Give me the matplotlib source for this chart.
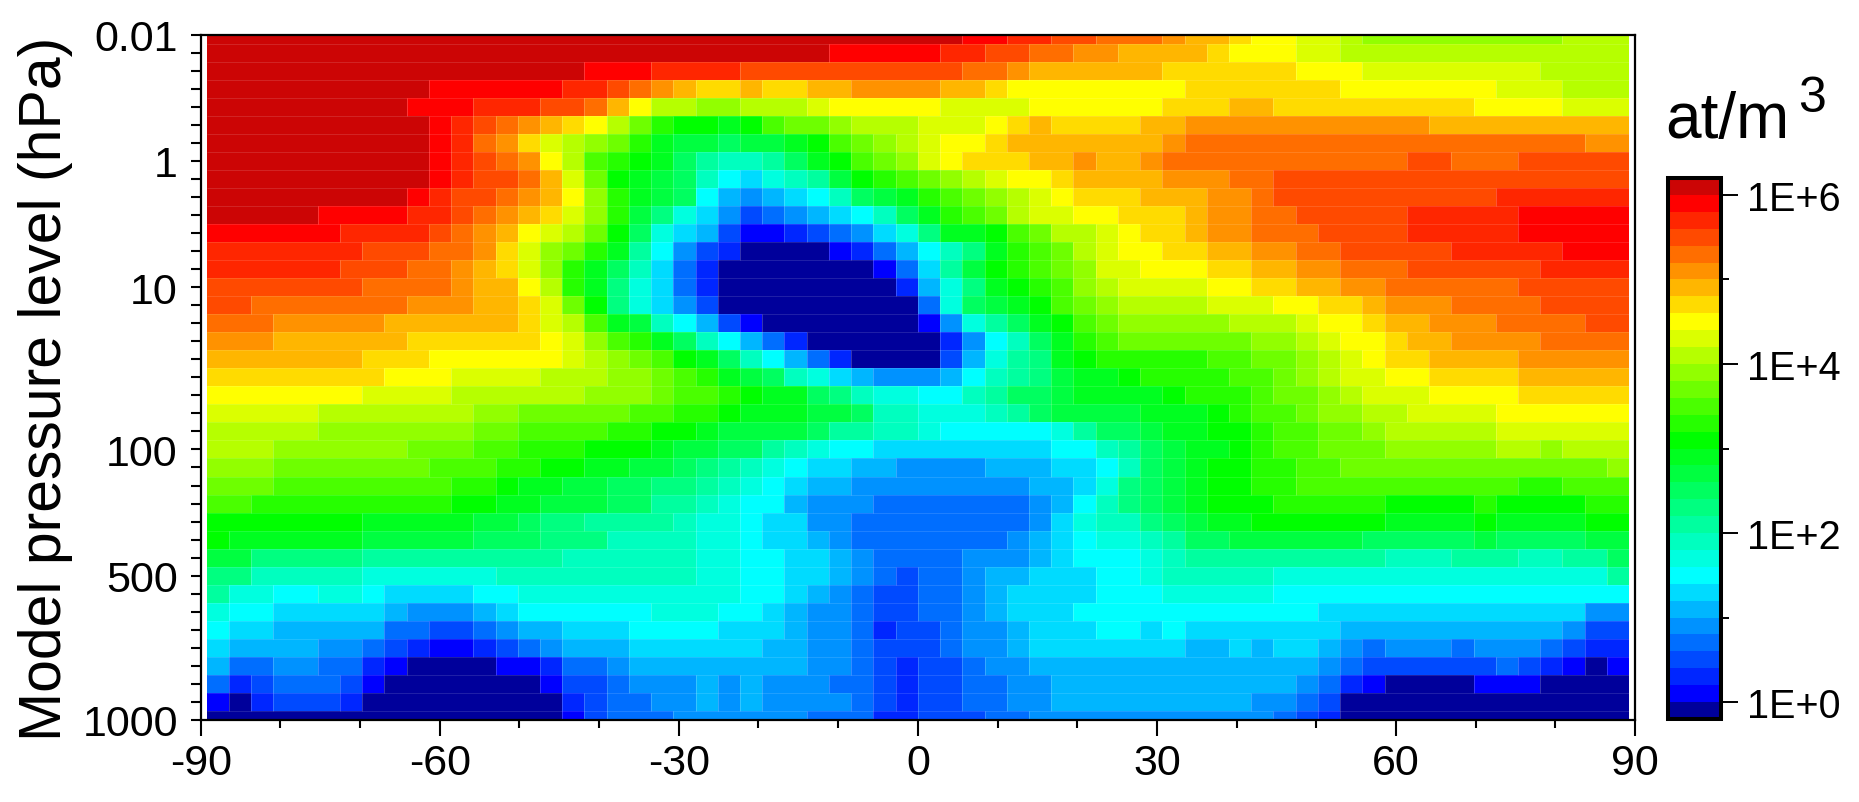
import numpy as np
import matplotlib
matplotlib.use("Agg")
import matplotlib.pyplot as plt
from matplotlib.colors import ListedColormap, BoundaryNorm
from matplotlib.collections import LineCollection

plt.rcParams['font.family'] = ['Liberation Sans', 'DejaVu Sans']
plt.rcParams['axes.unicode_minus'] = False

W, H = 1859, 803

# colour classes, lowest first. class 0 is below 1E+0, class 31 above 1E+6
class_colors = ['#00009B', '#0000FF', '#0026FF', '#004AFF', '#006EFF', '#0092FF', '#00B6FF', '#00DBFF',
                '#00FFFF', '#00FFDF', '#00FFBF', '#00FF9F', '#00FF80', '#00FF60', '#00FF40', '#00FF20',
                '#00FF00', '#26FF00', '#4AFF00', '#6EFF00', '#92FF00', '#B6FF00', '#DBFF00', '#FFFF00',
                '#FFDB00', '#FFB600', '#FF9200', '#FF6E00', '#FF4A00', '#FF2600', '#FF0000', '#CC0505']
log_bounds = np.arange(-0.2, 6.21, 0.2)

# T42 latitude cells and L39 levels (top to bottom)
n_lat = 64
n_lev = 39
lat_limit = 89.26

lat_ticks = [-90, -60, -30, 0, 30, 60, 90]
lat_minor = [-80, -70, -50, -40, -20, -10, 10, 20, 40, 50, 70, 80]
lev_ticks = [0, 7, 14, 23, 30, 38]
lev_labels = ['0.01', '1', '10', '100', '500', '1000']
cbar_ticks = [0, 2, 4, 6]
cbar_labels = ['1E+0', '1E+2', '1E+4', '1E+6']

# each level: (class, last column) runs from south to north
runs = [
    [(31,34),(30,36),(29,38),(28,40),(27,43),(26,44),(25,46),(24,47),(23,49),(22,51),(21,52),(20,61),(21,64)],
    [(31,28),(30,33),(29,35),(28,37),(27,39),(26,41),(25,45),(24,46),(23,49),(22,51),(21,64)],
    [(31,17),(30,20),(29,24),(28,34),(27,36),(26,37),(25,43),(24,49),(23,52),(22,60),(21,64)],
    [(31,10),(30,16),(29,18),(28,19),(27,20),(26,21),(25,22),(24,24),(25,25),(24,27),(25,29),(26,33),(25,35),(24,36),(23,44),(24,51),(23,58),(22,61),(21,64)],
    [(31,9),(30,12),(29,15),(28,17),(27,18),(25,19),(23,20),(21,22),(20,24),(21,27),(22,28),(23,33),(22,37),(23,43),(24,46),(25,48),(24,57),(23,61),(22,64)],
    [(31,10),(30,11),(29,12),(28,13),(27,14),(26,15),(25,16),(24,17),(23,18),(21,19),(19,20),(17,21),(16,23),(15,24),(16,25),(18,26),(19,28),(20,29),(21,32),(22,35),(23,36),(24,37),(25,38),(24,42),(25,44),(26,55),(25,64)],
    [(31,10),(30,11),(29,12),(27,13),(26,14),(24,15),(22,16),(21,17),(20,18),(19,19),(17,20),(15,21),(14,23),(13,24),(14,26),(15,27),(16,28),(18,29),(19,30),(20,31),(21,32),(22,33),(23,35),(24,36),(25,43),(26,44),(27,62),(26,64)],
    [(31,10),(30,11),(29,12),(28,13),(27,14),(26,15),(23,16),(21,17),(18,18),(17,19),(16,20),(15,21),(13,22),(11,23),(10,25),(11,26),(13,27),(15,28),(16,29),(18,30),(19,31),(20,32),(22,33),(23,34),(24,37),(25,39),(26,40),(25,42),(26,43),(27,54),(28,56),(27,59),(28,64)],
    [(31,10),(30,11),(29,12),(28,14),(27,15),(25,16),(22,17),(19,18),(16,19),(15,20),(14,21),(13,22),(10,23),(8,24),(7,25),(9,26),(10,27),(11,28),(14,29),(16,30),(17,31),(18,32),(19,33),(20,34),(21,35),(22,36),(23,38),(24,39),(25,43),(26,46),(27,48),(28,64)],
    [(31,9),(30,10),(29,11),(28,13),(27,14),(26,15),(25,16),(23,17),(20,18),(17,19),(15,20),(14,21),(13,22),(8,23),(6,24),(5,25),(6,26),(7,27),(8,28),(10,29),(13,30),(14,31),(15,32),(17,33),(18,34),(19,35),(20,36),(21,37),(22,38),(23,39),(24,42),(25,45),(26,47),(27,48),(28,58),(29,64)],
    [(31,5),(30,9),(29,11),(28,12),(27,13),(26,14),(25,15),(24,16),(22,17),(20,18),(17,19),(14,20),(12,21),(9,22),(7,23),(5,24),(3,25),(4,26),(5,27),(6,28),(7,29),(8,30),(10,31),(13,32),(15,33),(17,34),(18,35),(19,36),(21,37),(22,39),(23,41),(24,44),(25,45),(26,47),(27,49),(28,54),(29,59),(30,64)],
    [(30,6),(29,10),(28,11),(27,12),(26,13),(25,14),(23,15),(22,16),(21,17),(19,18),(16,19),(13,20),(9,21),(7,22),(6,23),(3,24),(1,26),(2,27),(3,28),(4,29),(5,30),(7,31),(9,32),(12,33),(15,35),(16,36),(18,37),(19,38),(21,40),(22,41),(23,42),(24,44),(25,45),(26,47),(27,50),(28,54),(29,59),(30,64)],
    [(29,7),(28,10),(27,12),(26,13),(24,14),(22,15),(20,16),(19,17),(17,18),(15,19),(11,20),(8,21),(5,22),(3,23),(2,24),(0,28),(1,29),(2,30),(4,31),(6,32),(8,33),(10,34),(12,35),(15,36),(17,37),(18,38),(19,39),(21,40),(22,41),(23,43),(24,45),(25,47),(26,49),(27,51),(28,56),(29,61),(30,64)],
    [(29,6),(28,9),(27,11),(26,12),(25,13),(24,14),(22,15),(20,16),(17,17),(15,18),(13,19),(10,20),(7,21),(4,22),(2,23),(0,30),(1,31),(4,32),(7,33),(11,34),(14,35),(16,36),(17,37),(18,38),(19,39),(20,40),(22,42),(23,45),(24,47),(25,49),(26,51),(27,54),(28,60),(29,64)],
    [(28,7),(27,11),(26,12),(25,14),(23,15),(21,16),(17,17),(15,18),(12,19),(9,20),(7,21),(4,22),(2,23),(0,31),(2,32),(6,33),(9,34),(12,35),(15,36),(16,37),(17,38),(18,39),(20,40),(21,41),(22,45),(23,47),(24,49),(25,51),(26,53),(27,59),(28,64)],
    [(28,2),(27,9),(26,12),(25,14),(24,15),(22,16),(19,17),(16,18),(12,19),(9,20),(7,21),(5,22),(3,23),(0,32),(4,33),(9,34),(13,35),(14,36),(15,37),(16,38),(18,39),(19,40),(20,41),(21,45),(22,48),(23,50),(24,52),(25,53),(26,56),(27,60),(28,64)],
    [(27,3),(26,8),(25,14),(24,15),(22,16),(21,17),(18,18),(15,19),(14,20),(10,21),(8,22),(6,23),(3,24),(1,25),(0,32),(1,33),(5,34),(9,35),(11,36),(13,37),(15,38),(16,39),(18,40),(19,41),(20,46),(21,49),(22,50),(23,52),(24,53),(25,55),(26,58),(27,62),(28,64)],
    [(26,3),(25,9),(24,15),(23,16),(22,17),(20,18),(18,19),(17,20),(15,21),(13,22),(10,23),(8,24),(6,25),(4,26),(2,27),(0,33),(2,34),(5,35),(8,36),(10,37),(13,38),(15,39),(17,40),(18,41),(19,47),(20,49),(21,50),(22,51),(23,53),(24,54),(25,56),(26,60),(27,64)],
    [(25,7),(24,10),(23,16),(22,17),(21,18),(20,19),(19,20),(18,21),(16,22),(15,23),(13,24),(10,25),(8,26),(6,27),(4,28),(2,29),(0,33),(3,34),(6,35),(9,36),(11,37),(12,38),(15,39),(16,40),(17,45),(18,47),(19,49),(20,50),(21,51),(22,52),(23,53),(24,55),(25,59),(26,64)],
    [(24,8),(23,11),(22,15),(21,18),(20,20),(19,21),(18,22),(17,23),(15,24),(14,25),(13,26),(10,27),(9,28),(7,29),(6,30),(5,33),(6,34),(8,35),(10,36),(11,37),(12,38),(14,39),(15,41),(16,42),(17,46),(18,48),(19,49),(20,50),(21,51),(22,53),(23,55),(24,59),(25,64)],
    [(23,7),(22,11),(21,17),(20,20),(19,21),(18,23),(17,24),(16,25),(15,27),(13,28),(12,29),(10,30),(9,32),(8,34),(10,35),(11,36),(13,38),(14,39),(15,43),(16,44),(17,47),(18,48),(19,50),(20,51),(21,52),(22,55),(23,59),(24,64)],
    [(22,5),(21,12),(20,14),(19,19),(18,21),(17,23),(16,24),(15,27),(14,29),(13,30),(10,32),(9,35),(10,36),(11,37),(13,38),(14,42),(15,45),(16,46),(17,47),(18,49),(19,50),(20,52),(21,54),(22,58),(23,64)],
    [(21,5),(20,12),(19,14),(18,18),(17,20),(16,22),(15,23),(14,27),(13,28),(11,30),(10,32),(9,33),(8,38),(9,39),(11,40),(13,42),(14,43),(15,45),(16,47),(17,48),(18,50),(19,52),(20,53),(21,58),(22,64)],
    [(21,3),(20,9),(19,12),(18,14),(17,17),(16,20),(15,21),(14,23),(13,25),(11,26),(10,27),(9,28),(8,30),(7,38),(8,40),(10,41),(11,42),(13,43),(14,44),(15,46),(16,47),(17,48),(18,50),(19,53),(20,58),(21,60),(20,61),(21,64)],
    [(20,3),(19,10),(18,13),(17,15),(16,17),(15,19),(14,21),(13,22),(12,23),(11,24),(10,25),(9,26),(8,27),(7,29),(6,31),(5,35),(6,38),(7,40),(8,41),(10,42),(13,43),(14,44),(15,45),(16,47),(17,49),(18,51),(19,63),(20,64)],
    [(19,3),(18,11),(17,13),(16,14),(15,16),(14,18),(13,20),(12,22),(11,23),(10,24),(9,25),(8,26),(7,27),(6,29),(5,37),(6,39),(7,40),(9,41),(12,42),(13,43),(14,44),(15,45),(16,47),(17,49),(18,59),(17,61),(18,64)],
    [(18,2),(17,11),(16,13),(15,15),(14,18),(13,20),(11,22),(10,23),(9,24),(8,26),(6,27),(5,30),(4,37),(5,38),(6,39),(8,40),(10,41),(12,42),(13,43),(14,44),(15,45),(16,48),(17,53),(16,57),(17,58),(16,62),(17,64)],
    [(16,7),(15,12),(14,14),(13,15),(12,17),(11,21),(10,22),(9,24),(8,25),(7,27),(5,29),(4,37),(5,38),(7,39),(9,40),(10,42),(12,43),(13,44),(14,45),(15,47),(16,53),(15,57),(16,58),(15,62),(16,64)],
    [(16,1),(15,7),(14,12),(13,15),(12,18),(10,22),(9,24),(8,25),(7,27),(6,28),(5,29),(4,36),(5,37),(6,38),(7,39),(8,40),(9,42),(10,43),(11,44),(13,46),(14,52),(13,57),(14,58),(13,62),(14,64)],
    [(14,2),(12,7),(11,16),(10,22),(9,24),(8,26),(7,28),(6,29),(5,30),(4,34),(5,37),(6,38),(7,39),(8,42),(9,43),(10,44),(11,53),(10,56),(11,59),(10,61),(11,63),(13,64)],
    [(12,2),(10,7),(9,13),(10,22),(9,24),(8,26),(7,28),(6,29),(5,30),(4,31),(3,32),(4,34),(5,35),(6,37),(7,40),(8,42),(9,43),(10,48),(9,63),(11,64)],
    [(11,1),(9,3),(8,5),(9,7),(8,8),(7,12),(8,14),(9,24),(8,26),(7,27),(6,28),(5,29),(4,30),(3,32),(4,34),(5,35),(6,36),(7,40),(8,43),(9,48),(8,64)],
    [(9,1),(8,3),(7,8),(6,9),(5,12),(6,13),(7,14),(8,20),(9,23),(8,25),(7,26),(6,27),(5,29),(4,30),(3,32),(4,34),(5,35),(6,36),(7,39),(8,50),(7,62),(5,64)],
    [(8,1),(7,3),(6,8),(4,10),(3,12),(4,13),(5,14),(6,16),(7,19),(8,23),(7,26),(6,27),(5,29),(4,30),(2,31),(3,33),(4,34),(5,36),(6,37),(7,40),(8,42),(7,43),(8,44),(7,51),(6,61),(5,62),(3,64)],
    [(7,1),(6,5),(5,7),(4,8),(3,9),(2,10),(1,12),(2,13),(3,14),(4,15),(5,16),(6,19),(7,25),(6,27),(5,29),(4,30),(3,33),(4,34),(5,36),(6,37),(7,44),(6,46),(7,47),(6,48),(7,50),(6,51),(5,52),(4,53),(5,56),(4,57),(5,60),(4,61),(3,62),(2,64)],
    [(6,1),(4,3),(5,5),(4,7),(2,8),(1,9),(0,13),(1,15),(2,16),(4,18),(5,19),(6,27),(5,29),(4,30),(3,31),(2,32),(3,34),(4,35),(5,37),(6,50),(5,51),(4,52),(3,58),(4,59),(3,60),(2,61),(1,62),(0,63),(1,64)],
    [(4,1),(2,2),(3,3),(4,6),(3,7),(1,8),(0,15),(1,16),(3,18),(4,19),(5,22),(6,23),(5,24),(6,25),(5,28),(4,30),(3,31),(2,32),(3,34),(4,36),(5,38),(6,49),(5,50),(4,51),(2,52),(1,53),(0,57),(1,60),(0,64)],
    [(1,1),(0,2),(2,3),(3,6),(2,7),(0,16),(2,17),(3,18),(4,20),(5,22),(6,23),(5,24),(6,25),(5,29),(4,30),(3,31),(2,32),(3,34),(4,36),(5,38),(6,47),(5,49),(4,50),(3,51),(0,64)],
    [(0,16),(1,17),(3,18),(4,21),(5,27),(4,30),(2,32),(3,35),(4,37),(5,48),(4,49),(3,50),(2,51),(0,64)],
]


def expand_runs(runs):
    out = np.zeros((n_lev, n_lat), dtype=int)
    for i, row in enumerate(runs):
        start = 0
        for cls, end in row:
            out[i, start:end] = cls
            start = end
    return out


def box(left, top, right, bottom):
    return [left/W, 1 - bottom/H, (right - left)/W, (bottom - top)/H]


classes = expand_runs(runs)
log_conc = log_bounds[classes] + 0.1

cmap = ListedColormap(class_colors)
norm = BoundaryNorm(log_bounds, cmap.N)

lat_edges = np.linspace(-lat_limit, lat_limit, n_lat + 1)
lev_edges = np.concatenate(([0], np.arange(n_lev - 1) + 0.5, [n_lev - 1]))

fig = plt.figure(figsize=(W/100, H/100), dpi=100)
ax = fig.add_axes(box(200.7, 35.6, 1635, 721))
mesh = ax.pcolormesh(lat_edges, lev_edges, log_conc, cmap=cmap, norm=norm, shading='flat', linewidth=0, rasterized=True)
ax.set_xlim(-90, 90)
ax.set_ylim(n_lev - 1, 0)

# faint light seams between the cells
segs = [[(lat_edges[0], y), (lat_edges[-1], y)] for y in lev_edges[1:-1]]
ax.add_collection(LineCollection(segs, colors='white', linewidths=0.7, alpha=0.13))
segs = []
for i in range(n_lev):
    for j in range(n_lat - 1):
        if classes[i, j] != classes[i, j + 1]:
            segs.append([(lat_edges[j + 1], lev_edges[i]), (lat_edges[j + 1], lev_edges[i + 1])])
ax.add_collection(LineCollection(segs, colors='white', linewidths=0.7, alpha=0.22))

for s in ax.spines.values():
    s.set_linewidth(1.6)
ax.set_xticks(lat_ticks)
ax.set_xticks(lat_minor, minor=True)
ax.set_xticklabels([str(v) for v in lat_ticks], fontsize=31)
ax.set_yticks(lev_ticks)
ax.set_yticks(np.arange(n_lev), minor=True)
ax.set_yticklabels(lev_labels, fontsize=31)
ax.tick_params(axis='x', which='major', length=11.5, width=1.5, pad=5)
ax.tick_params(axis='x', which='minor', length=5.8, width=1.5)
ax.tick_params(axis='y', which='both', length=7.5, width=1.5, pad=9)

fig.text(46/W, 1 - 389/H, 'Model pressure level (hPa)', rotation=90, fontsize=42.4, ha='center', va='center')

# colour bar
cax = fig.add_axes(box(1668, 179, 1721, 720))
cb = fig.colorbar(mesh, cax=cax, boundaries=log_bounds, ticks=cbar_ticks, spacing='uniform', drawedges=False)
cb.set_ticklabels(cbar_labels, fontsize=28.5)
cb.set_ticks([1, 3, 5], minor=True)
cb.outline.set_linewidth(2.9)
cax.tick_params(axis='y', which='major', length=12, width=1.4, pad=7)
cax.tick_params(axis='y', which='minor', length=6, width=1.4)

fig.text(1665/W, 1 - 138/H, 'at/m', fontsize=46, ha='left', va='baseline')
fig.text(1798/W, 1 - 112/H, '3', fontsize=36, ha='left', va='baseline')

fig.savefig('out.png', dpi=100)
